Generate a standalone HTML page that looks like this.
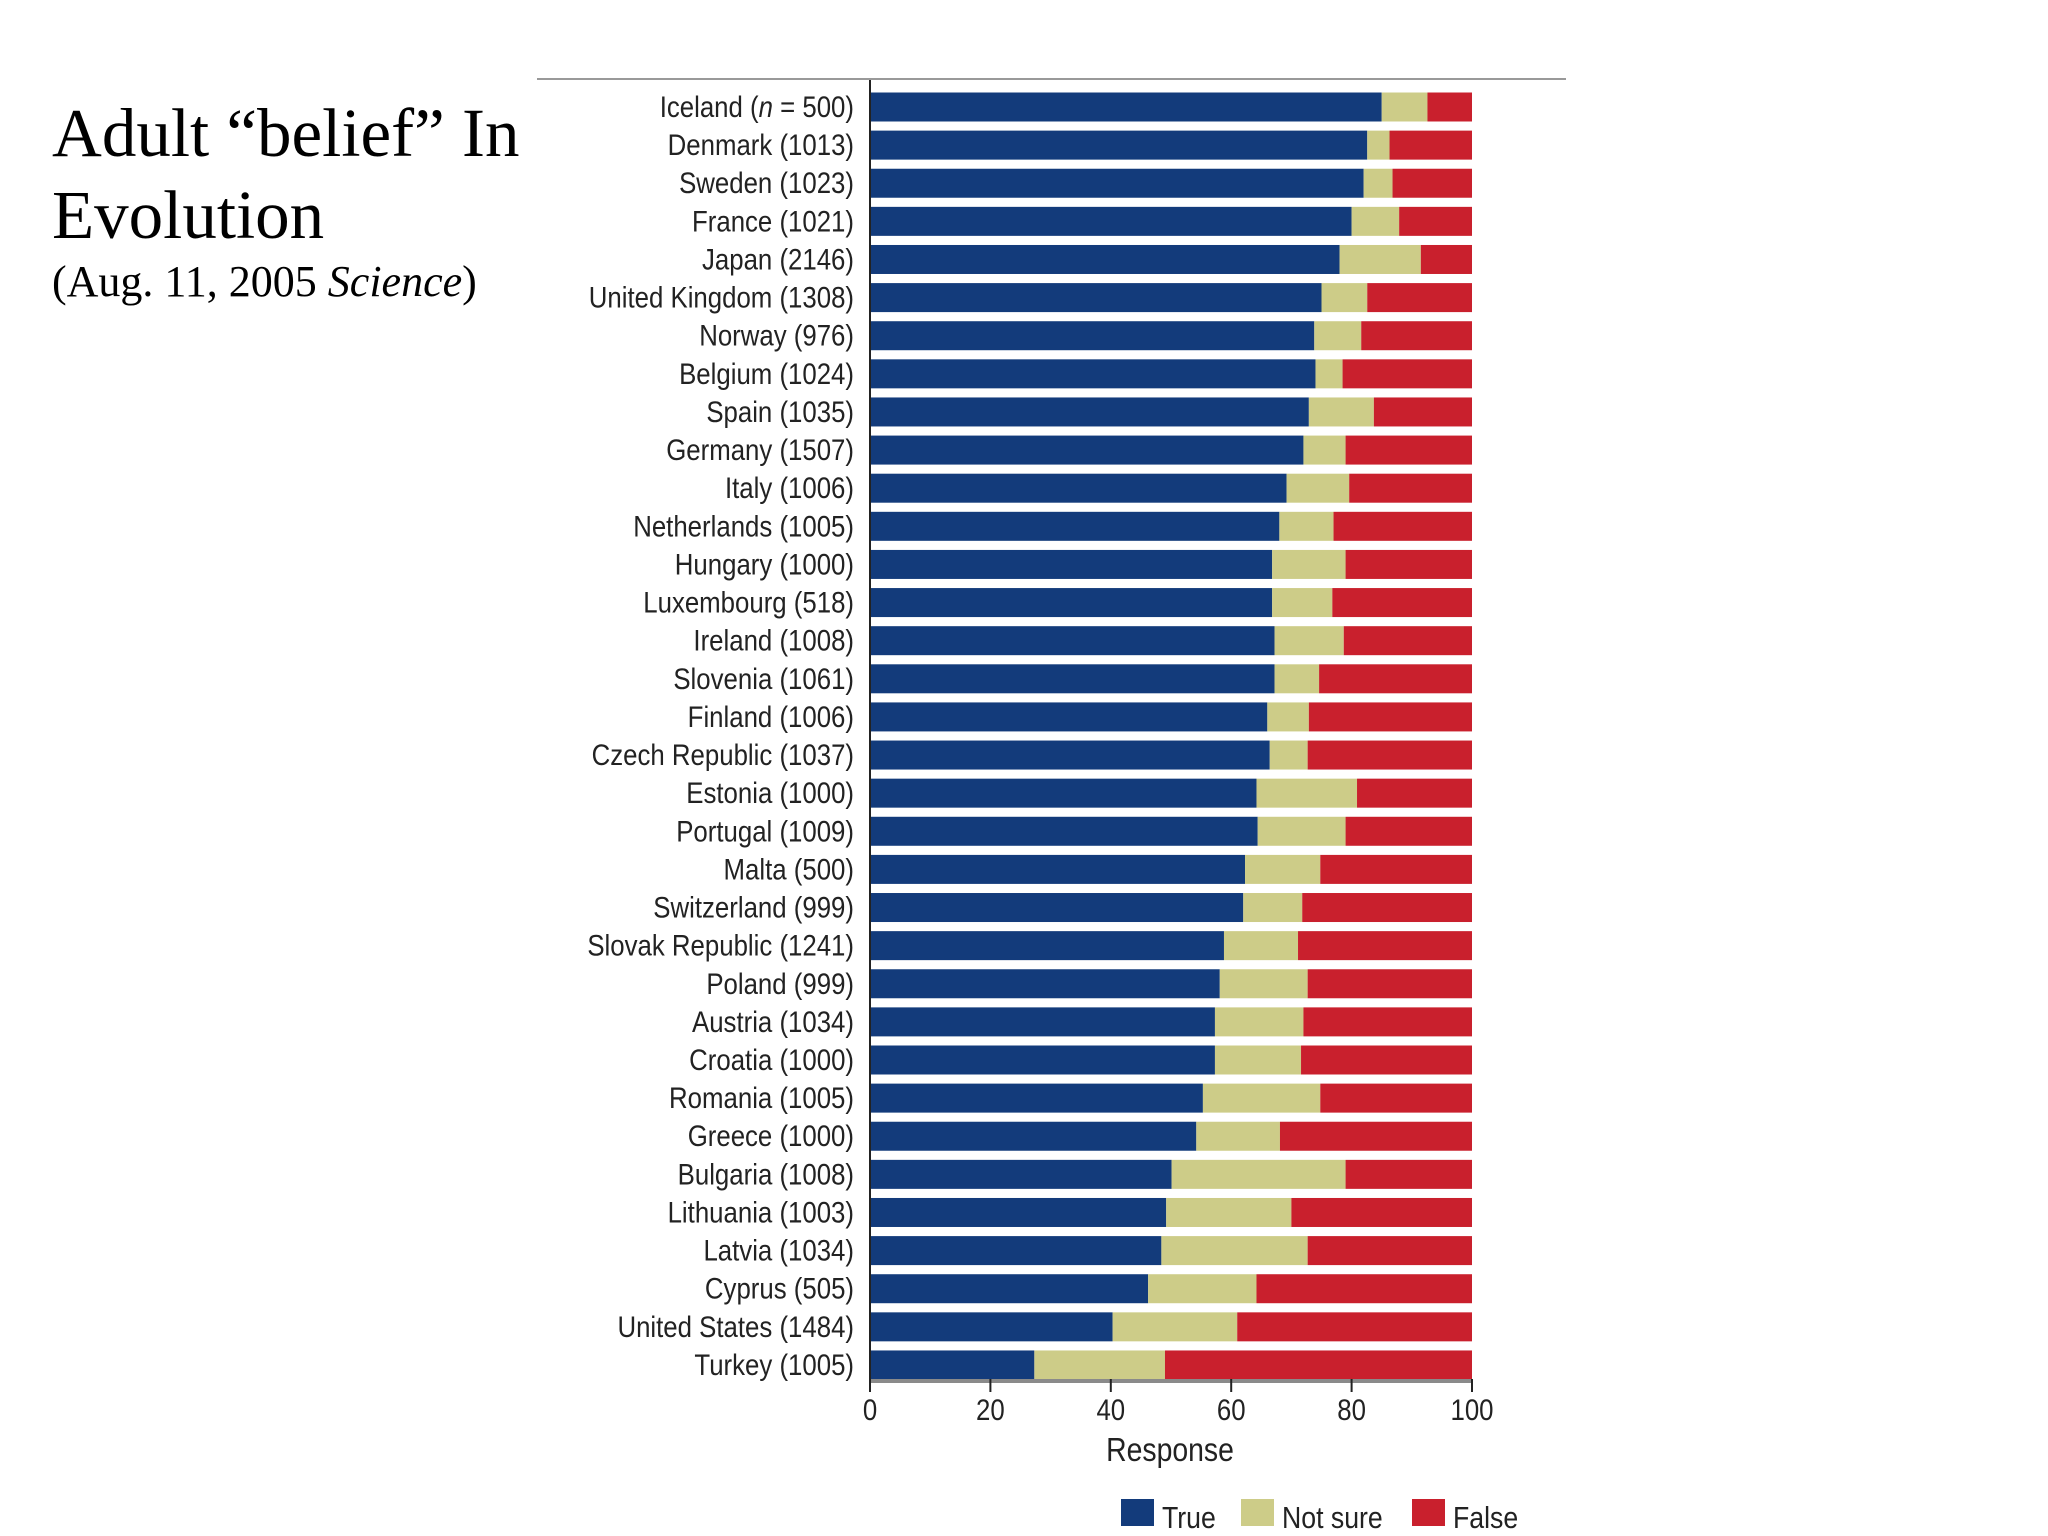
<!DOCTYPE html>
<html><head><meta charset="utf-8"><style>
html,body{margin:0;padding:0;background:#fff;}
body{width:2048px;height:1536px;position:relative;overflow:hidden;}
.t{position:absolute;left:52px;font-family:"Liberation Serif",serif;color:#000;white-space:nowrap;}
svg{position:absolute;left:0;top:0;}
</style></head><body>
<div class="t" style="top:94px;font-size:69px;">Adult “belief” In</div>
<div class="t" style="top:176px;font-size:69px;">Evolution</div>
<div class="t" style="top:256px;font-size:44px;">(Aug. 11, 2005 <i>Science</i>)</div>
<svg id="chart" width="2048" height="1536"></svg>
<script>
const categories=["Iceland (n = 500)","Denmark (1013)","Sweden (1023)","France (1021)","Japan (2146)","United Kingdom (1308)","Norway (976)","Belgium (1024)","Spain (1035)","Germany (1507)","Italy (1006)","Netherlands (1005)","Hungary (1000)","Luxembourg (518)","Ireland (1008)","Slovenia (1061)","Finland (1006)","Czech Republic (1037)","Estonia (1000)","Portugal (1009)","Malta (500)","Switzerland (999)","Slovak Republic (1241)","Poland (999)","Austria (1034)","Croatia (1000)","Romania (1005)","Greece (1000)","Bulgaria (1008)","Lithuania (1003)","Latvia (1034)","Cyprus (505)","United States (1484)","Turkey (1005)"];
const trueVals=[85,82.6,82,80,78,75,73.8,74,72.9,72,69.2,68,66.8,66.8,67.2,67.2,66,66.4,64.2,64.4,62.3,62,58.8,58.1,57.3,57.3,55.3,54.2,50.1,49.2,48.4,46.2,40.3,27.3];
const notSureVals=[7.6,3.7,4.8,7.9,13.5,7.6,7.8,4.5,10.8,7,10.4,9,12.2,10,11.5,7.4,6.9,6.3,16.7,14.6,12.5,9.8,12.3,14.6,14.7,14.3,19.5,13.9,28.9,20.8,24.3,18,20.7,21.7];
const falseVals=trueVals.map((t,i)=>+(100-t-notSureVals[i]).toFixed(1));
const ticks=[0,20,40,60,80,100];
const NS="http://www.w3.org/2000/svg";
const svg=document.getElementById('chart');
const X0=870,X1=1472,Y0=107,PITCH=38.12,BH=29;
const FONT='"Liberation Sans Narrow","Liberation Sans",sans-serif';
const SX=0.86;
const xs=v=>X0+(X1-X0)*v/100;
const ys=i=>Y0+i*PITCH;
const colors={t:"#133b7b",n:"#cdcc88",f:"#c9202d"};
function mk(tag,attrs){const e=document.createElementNS(NS,tag);for(const k in attrs)e.setAttribute(k,attrs[k]);svg.appendChild(e);return e;}
function txt(x,y,anchor,size){return mk('text',{x:0,y:0,transform:`translate(${x},${y}) scale(${SX},1)`,'text-anchor':anchor,'font-family':FONT,'font-size':size,fill:'#222'});}
let e;
e=mk('line',{x1:537,x2:1566,y1:79,y2:79,stroke:'#999','stroke-width':2});


categories.forEach((c,i)=>{
  const cy=ys(i),y=cy-BH/2;
  const segs=[[0,trueVals[i],colors.t,'true'],[trueVals[i],trueVals[i]+notSureVals[i],colors.n,'not-sure'],[trueVals[i]+notSureVals[i],trueVals[i]+notSureVals[i]+falseVals[i],colors.f,'false']];
  segs.forEach(s=>{
    const r=mk('rect',{x:xs(s[0]),y:y,width:Math.max(0,xs(s[1])-xs(s[0])),height:BH,fill:s[2]});
    
    
  });
  const t=txt(854,cy+10,'end',30);
  
  
  if(c.indexOf('(n =')>=0){t.innerHTML='Iceland (<tspan font-style="italic">n</tspan> = 500)';}else t.textContent=c;
});
e=mk('line',{x1:X0,x2:X0,y1:80,y2:1392,stroke:'#222','stroke-width':2});


e=mk('line',{x1:X0,x2:X1,y1:1381,y2:1381,stroke:'#8a8a8a','stroke-width':4});


ticks.forEach(v=>{
  const l=mk('line',{x1:xs(v),x2:xs(v),y1:1379,y2:1392,stroke:'#222','stroke-width':2});
  
  
  const t=txt(xs(v),1420,'middle',30);
  t.textContent=v;
  
  
});
e=txt(1170,1461,'middle',33);
e.textContent='Response';


const legend=[['True',colors.t,1121],['Not sure',colors.n,1241],['False',colors.f,1412]];
legend.forEach(L=>{
  const r=mk('rect',{x:L[2],y:1499,width:33,height:27,fill:L[1]});
  
  
  const t=txt(L[2]+41,1528,'start',31);
  t.textContent=L[0];
  
  
});
</script>
</body></html>
